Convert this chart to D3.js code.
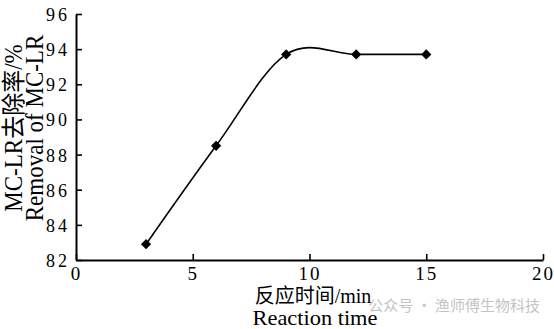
<!DOCTYPE html>
<html>
<head>
<meta charset="utf-8">
<script src="https://cdn.jsdelivr.net/npm/d3@7"></script>
<style>
  body { margin: 0; background: #fff; }
  svg { display: block; }
  text { font-family: "Liberation Serif", "Times New Roman", "Noto Sans CJK SC", serif; fill: #000; }
</style>
</head>
<body>
<svg id="chart" width="554" height="329"></svg>
<script>
// reaction time (min) vs MC-LR removal (%)
var times = [3, 6, 9, 12, 15];
var removal = [82.9, 88.5, 93.7, 93.7, 93.7];
var xTicks = [0, 5, 10, 15, 20];
var yTicks = [82, 84, 86, 88, 90, 92, 94, 96];

var svg = d3.select("#chart");

var x = d3.scaleLinear().domain([0, 20]).range([76, 543]);
var y = d3.scaleLinear().domain([82, 96]).range([260, 14]);

// x axis, ticks pointing inward
var gx = svg.append("g")
    .attr("transform", "translate(0," + y(82) + ")")
    .call(d3.axisTop(x).tickValues(xTicks).tickSize(6).tickSizeOuter(0).tickFormat(d3.format("d")));
gx.select(".domain").attr("stroke-width", 2);
gx.selectAll(".tick line").attr("stroke-width", 1.6);
gx.selectAll(".tick text")
    .attr("y", 20).attr("dy", 0)
    .attr("font-size", 19)
    .attr("letter-spacing", 2)
    .style("font-family", "Liberation Serif");

// y axis
var gy = svg.append("g")
    .attr("transform", "translate(" + x(0) + ",0)")
    .call(d3.axisRight(y).tickValues(yTicks).tickSize(6).tickSizeOuter(0).tickFormat(d3.format("d")));
gy.select(".domain").attr("stroke-width", 2);
gy.selectAll(".tick line").attr("stroke-width", 1.6);
gy.selectAll(".tick text")
    .attr("x", -6).attr("dy", "0.36em")
    .attr("text-anchor", "end")
    .attr("font-size", 18)
    .attr("letter-spacing", 3)
    .style("font-family", "Liberation Serif");

// smooth line through points
var line = d3.line()
    .x(function(d, i) { return x(times[i]); })
    .y(function(d) { return y(d); })
    .curve(d3.curveCardinal.tension(0));

svg.append("path")
    .datum(removal)
    .attr("d", line)
    .attr("fill", "none")
    .attr("stroke", "#000")
    .attr("stroke-width", 1.6);

svg.selectAll(".pt")
    .data(removal)
    .enter().append("path")
    .attr("class", "pt")
    .attr("d", d3.symbol().type(d3.symbolSquare).size(52))
    .attr("transform", function(d, i) { return "translate(" + x(times[i]) + "," + y(d) + ") rotate(45)"; })
    .attr("fill", "#000");

// y title (two lines)
var yt = svg.append("g").attr("transform", "translate(22,128) rotate(-90) scale(1,1.05)");
yt.append("text").attr("text-anchor", "middle").attr("font-size", 23).text("MC-LR去除率/%");
yt.append("text").attr("text-anchor", "middle").attr("font-size", 23).attr("y", 20).text("Removal of MC-LR");

// x title (two lines)
svg.append("text")
    .attr("x", 313).attr("y", 303)
    .attr("text-anchor", "middle")
    .attr("font-size", 20)
    .text("反应时间/min");
svg.append("text")
    .attr("transform", "translate(315,325) scale(1.12,1)")
    .attr("text-anchor", "middle")
    .attr("font-size", 20)
    .text("Reaction time");

// watermark
svg.append("text")
    .attr("x", 540).attr("y", 311)
    .attr("text-anchor", "end")
    .attr("font-size", 15)
    .style("font-family", "Noto Sans CJK SC")
    .style("fill", "#c4c4c4")
    .text("公众号 · 渔师傅生物科技");
</script>
</body>
</html>
